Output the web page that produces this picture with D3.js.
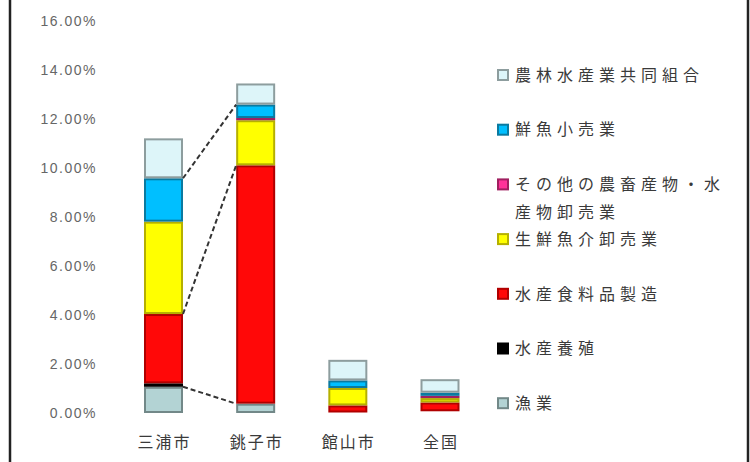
<!DOCTYPE html>
<html>
<head>
<meta charset="utf-8">
<script src="https://cdn.jsdelivr.net/npm/d3@7"></script>
<style>
  body { margin: 0; background: #fff; }
  svg { display: block; }
</style>
</head>
<body>
<div id="chart"></div>
<script>
// categories (x axis)
var categories = ["三浦市", "銚子市", "館山市", "全国"];

// series, bottom of the stack first
var seriesNames = ["漁業", "水産養殖", "水産食料品製造", "生鮮魚介卸売業",
                   "その他の農畜産物・水産物卸売業", "鮮魚小売業", "農林水産業共同組合"];

// values in %, one per category
var gyogyo      = [1.07, 0.38, 0.02, 0.05];
var yoshoku     = [0.14, 0.00, 0.00, 0.02];
var shokuryo    = [2.83, 9.73, 0.29, 0.36];
var oroshi      = [3.77, 1.84, 0.71, 0.18];
var sonota      = [0.00, 0.09, 0.00, 0.09];
var kouri       = [1.77, 0.55, 0.31, 0.13];
var kumiai      = [1.63, 0.86, 0.84, 0.55];

var yTicks = [0, 2, 4, 6, 8, 10, 12, 14, 16];

// series whose tops are joined between the first two bars
var connectorSeries = ["鮮魚小売業", "水産食料品製造", "漁業"];

var seriesValues = [gyogyo, yoshoku, shokuryo, oroshi, sonota, kouri, kumiai];
var fills   = ["#b3d3d4", "#000000", "#ff0808", "#ffff00", "#ff3399", "#00bfff", "#ddf5f9"];
var strokes = ["#728888", "#000000", "#b00000", "#b5b000", "#a02060", "#0a7aa0", "#8d9d9e"];

var W = 750, H = 462;
var svg = d3.select("#chart").append("svg")
    .attr("width", W)
    .attr("height", H);

// frame lines left and right
svg.append("line").attr("x1", 10).attr("x2", 10).attr("y1", 0).attr("y2", H)
   .attr("stroke", "#222").attr("stroke-width", 2.5);
svg.append("line").attr("x1", 748).attr("x2", 748).attr("y1", 0).attr("y2", H)
   .attr("stroke", "#222").attr("stroke-width", 2.5);

var x = d3.scalePoint()
    .domain(categories)
    .range([163.5, 440]);

var y = d3.scaleLinear()
    .domain([0, 16])
    .range([413, 21]);

var barW = 39;

// build stack table
var table = categories.map(function(c, i) {
    var row = { cat: c };
    seriesNames.forEach(function(s, j) { row[s] = seriesValues[j][i]; });
    return row;
});
var stacked = d3.stack().keys(seriesNames)(table);

// y axis
var yAxis = svg.append("g")
    .attr("transform", "translate(97,0)")
    .call(d3.axisLeft(y).tickValues(yTicks).tickSize(0).tickPadding(0)
          .tickFormat(function(d) { return d.toFixed(2) + "%"; }));
yAxis.select(".domain").remove();
yAxis.selectAll("text")
    .attr("font-family", "Liberation Sans, Arial, sans-serif")
    .attr("font-size", 14)
    .attr("letter-spacing", 1.5)
    .attr("fill", "#666");

// bars
stacked.forEach(function(layer, j) {
    svg.append("g").selectAll("rect")
        .data(layer)
        .enter().append("rect")
        .attr("x", function(d) { return x(d.data.cat) - barW / 2 + 1; })
        .attr("y", function(d) { return y(d[1]) + 1; })
        .attr("width", barW - 2)
        .attr("height", function(d) { return Math.max(0, y(d[0]) - y(d[1]) - 2); })
        .attr("fill", fills[j])
        .attr("stroke", strokes[j])
        .attr("stroke-width", function(d) { return (y(d[0]) - y(d[1])) > 0.5 ? 2 : 0; });
});

// dashed connectors between first two bars
connectorSeries.forEach(function(s) {
    var layer = stacked[seriesNames.indexOf(s)];
    var a = layer[0], b = layer[1];
    svg.append("line")
        .attr("x1", x(a.data.cat) + barW / 2)
        .attr("y1", y(a[1]))
        .attr("x2", x(b.data.cat) - barW / 2)
        .attr("y2", y(b[1]))
        .attr("stroke", "#333")
        .attr("stroke-width", 2)
        .attr("stroke-dasharray", "5,3");
});

// x labels
svg.append("g").selectAll("text")
    .data(categories)
    .enter().append("text")
    .attr("x", function(d) { return x(d) + 1; })
    .attr("y", 442)
    .attr("dy", "0.35em")
    .attr("text-anchor", "middle")
    .attr("font-family", "Noto Sans CJK JP, sans-serif")
    .attr("font-size", 16)
    .attr("letter-spacing", 2)
    .attr("fill", "#3a3a3a")
    .text(function(d) { return d; });

// legend, top of stack first
var legendNames = seriesNames.slice().reverse();
var legend = svg.append("g");
legendNames.forEach(function(name, i) {
    var j = seriesNames.indexOf(name);
    var cy = 75 + i * 54.7;
    legend.append("rect")
        .attr("x", 498).attr("y", cy - 5)
        .attr("width", 10).attr("height", 10)
        .attr("fill", fills[j])
        .attr("stroke", strokes[j])
        .attr("stroke-width", 2);
    var lines = name.length > 10 ? [name.slice(0, 10), name.slice(10)] : [name];
    lines.forEach(function(t, k) {
        legend.append("text")
            .attr("x", 515)
            .attr("y", cy + k * 28)
            .attr("dy", "0.36em")
            .attr("font-family", "Noto Sans CJK JP, sans-serif")
            .attr("font-size", 16)
            .attr("letter-spacing", 5)
            .attr("fill", "#3a3a3a")
            .text(t);
    });
});
</script>
</body>
</html>
